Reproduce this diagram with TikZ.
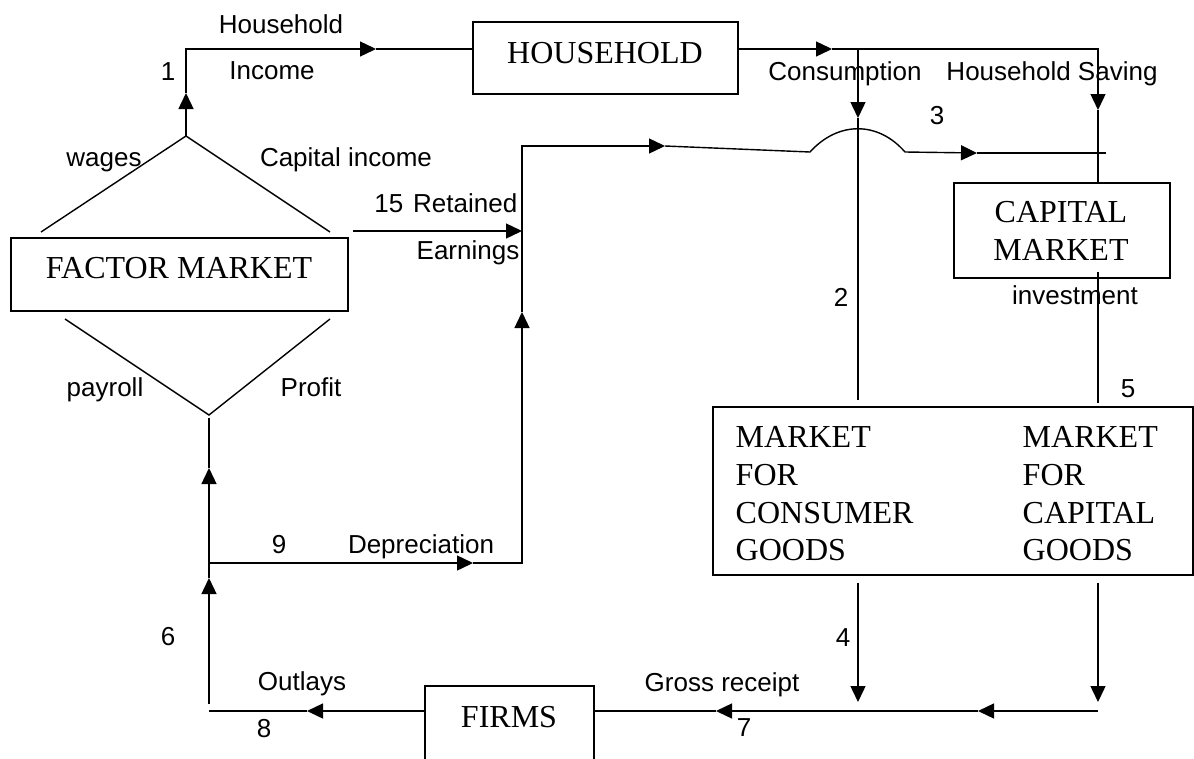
\documentclass[tikz,border=0pt]{standalone}
\usepackage{fontspec}
\setmainfont{Liberation Serif}
\setsansfont{Liberation Sans}
\usetikzlibrary{arrows.meta}
\begin{document}
\begin{tikzpicture}[x=1pt,y=-1pt,line width=1.4pt,
  rect/.style={draw,line width=1.6pt,inner sep=0pt,fill=none},
  boxtext/.style={font=\fontsize{32}{37.5}\selectfont,inner sep=0pt,text height=21.5pt,text depth=0pt},
  lbl/.style={font=\sffamily\fontsize{26}{30}\selectfont,inner sep=0pt,text height=18.6pt,text depth=0pt},
  tip/.style={-{Triangle[length=16pt,width=15pt]}}]
\useasboundingbox[fill=white] (0,0) rectangle (1194,758);

% boxes
\node[rect,minimum width=265pt,minimum height=72pt] (hh) at (605.5,58) {};
\node[rect,minimum width=337pt,minimum height=73pt] (fm) at (179.5,274.5) {};
\node[rect,minimum width=216pt,minimum height=95pt] (cm) at (1062,230.5) {};
\node[rect,minimum width=480pt,minimum height=168pt] (mk) at (953,491) {};
\node[rect,minimum width=169pt,minimum height=74pt] (fi) at (509.5,723) {};

% box texts
\node[boxtext] (hht) at (605,53) {HOUSEHOLD};
\node[boxtext] (fmt) at (179,268) {FACTOR MARKET};
\node[boxtext] (cmt1) at (1061,212) {CAPITAL};
\node[boxtext] (cmt2) at (1061,250) {MARKET};
\node[boxtext,anchor=west] (mkl1) at (735,437) {MARKET};
\node[boxtext,anchor=west] (mkl2) at (735,475) {FOR};
\node[boxtext,anchor=west] (mkl3) at (735,513) {CONSUMER};
\node[boxtext,anchor=west] (mkl4) at (735,550) {GOODS};
\node[boxtext,anchor=west] (mkr1) at (1022,437) {MARKET};
\node[boxtext,anchor=west] (mkr2) at (1022,475) {FOR};
\node[boxtext,anchor=west] (mkr3) at (1022,513) {CAPITAL};
\node[boxtext,anchor=west] (mkr4) at (1022,550) {GOODS};
\node[boxtext] (fit) at (509,717) {FIRMS};

% labels
\node[lbl] (l1) at (168,71) {1};
\node[lbl] (lhh) at (281,24) {Household};
\node[lbl] (linc) at (272,70) {Income};
\node[lbl] (lwag) at (104,157) {wages};
\node[lbl] (lcap) at (346,157) {Capital income};
\node[lbl,anchor=east] (lret) at (518,203) {15\hspace{10pt}Retained};
\node[lbl,anchor=east] (lear) at (520,250) {Earnings};
\node[lbl] (lpay) at (105,387) {payroll};
\node[lbl] (lpro) at (311,387) {Profit};
\node[lbl] (lcon) at (845,71) {Consumption};
\node[lbl] (lsav) at (1052,71) {Household Saving};
\node[lbl] (l3) at (937,115) {3};
\node[lbl] (l2) at (841,297) {2};
\node[lbl] (linv) at (1075,295) {investment};
\node[lbl] (l5) at (1128,388) {5};
\node[lbl] (l9) at (279,544) {9};
\node[lbl] (ldep) at (421,544) {Depreciation};
\node[lbl] (l6) at (168,636) {6};
\node[lbl] (lout) at (302,681) {Outlays};
\node[lbl] (l8) at (264,728) {8};
\node[lbl] (l4) at (843,637) {4};
\node[lbl] (lgr) at (722,682) {Gross receipt};
\node[lbl] (l7) at (744,727) {7};

% coordinates
\coordinate (apT) at (186,136);
\coordinate (dTL) at (41,232);
\coordinate (dTR) at (330,232);
\coordinate (dBL) at (65,319);
\coordinate (dBR) at (330,319);
\coordinate (apB) at (209,415);
\coordinate (inc1) at (186,93);
\coordinate (inc2) at (186,49);
\coordinate (inc3) at (376,49);
\coordinate (con1) at (832,49);
\coordinate (conJ) at (858,49);
\coordinate (savC) at (1098,49);
\coordinate (sav1) at (1098,110);
\coordinate (con2) at (858,118);
\coordinate (con3) at (858,400);
\coordinate (ret0) at (353,231);
\coordinate (ret1) at (522,231);
\coordinate (dep0) at (209,563);
\coordinate (dep1) at (473,563);
\coordinate (dep2) at (522,563);
\coordinate (up1) at (522,312);
\coordinate (up2) at (522,146);
\coordinate (top1) at (665,146);
\coordinate (hmp0) at (810,152);
\coordinate (hmp1) at (905,152);
\coordinate (top2) at (977,153);
\coordinate (top3) at (1106,153);
\coordinate (v0) at (209,704);
\coordinate (v1) at (209,578);
\coordinate (v2) at (209,468);
\coordinate (v3) at (209,418);
\coordinate (out0) at (307,711);
\coordinate (out1) at (209,711);
\coordinate (gr0) at (1098,711);
\coordinate (gr1) at (978,711);
\coordinate (gr2) at (716,711);
\coordinate (c4a) at (858,583);
\coordinate (c4b) at (858,702);
\coordinate (c5a) at (1098,583);
\coordinate (c5b) at (1098,702);
\coordinate (inv0) at (1098,272);
\coordinate (inv1) at (1098,403);

% diamond
\draw (dTL) -- (apT) -- (dTR);
\draw (dBL) -- (apB) -- (dBR);

% household income
\draw[tip] (apT) -- (inc1);
\draw[tip] (inc1) -- (inc2) -- (inc3);
\draw (inc3) -- (hh.west |- inc3);

% consumption / saving
\draw[tip] (hh.east |- con1) -- (con1);
\draw[tip] (con1) -- (savC) -- (sav1);
\draw (sav1) -- (cm.north -| sav1);
\draw[tip] (conJ) -- (con2);
\draw (con2) -- (con3);

% retained earnings
\draw[tip] (ret0) -- (ret1);

% depreciation and upper flow with hump
\draw[tip] (dep0) -- (dep1);
\draw[tip] (dep1) -- (dep2) -- (up1);
\draw[tip] (up1) -- (up2) -- (top1);
\draw[tip] (top1) -- (hmp0) .. controls (838,121) and (878,121) .. (hmp1) -- (top2);
\draw (top2) -- (top3);

% left vertical
\draw[tip] (v0) -- (v1);
\draw[tip] (v1) -- (v2);
\draw (v2) -- (v3);

% outlays
\draw[tip] (fi.west |- out0) -- (out0);
\draw (out0) -- (out1);

% gross receipt
\draw[tip] (gr0) -- (gr1);
\draw[tip] (gr1) -- (gr2);
\draw (gr2) -- (fi.east |- gr2);
\draw[tip] (c4a) -- (c4b);
\draw[tip] (c5a) -- (c5b);

% investment
\draw (inv0) -- (inv1);
\end{tikzpicture}
\end{document}
